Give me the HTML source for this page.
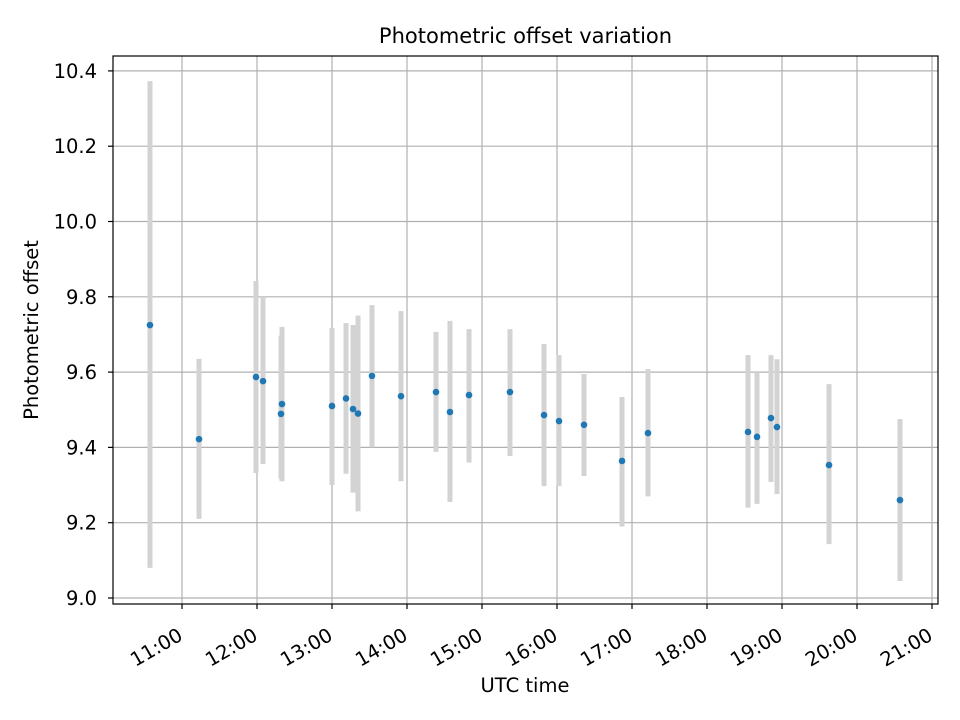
<!DOCTYPE html>
<html><head><meta charset="utf-8"><style>body{margin:0;background:#fff}svg{display:block;font-family:"DejaVu Sans","Liberation Sans",sans-serif}</style></head>
<body>
<svg id="c" width="960" height="720"></svg>
<script>
const times=[10.573,11.227,11.987,12.08,12.333,12.32,13.0,13.187,13.28,13.347,13.533,13.92,14.387,14.573,14.827,15.373,15.827,16.027,16.36,16.867,17.213,18.547,18.667,18.853,18.933,19.627,20.573];
const values=[9.725,9.422,9.587,9.576,9.515,9.489,9.51,9.53,9.502,9.49,9.59,9.536,9.547,9.494,9.539,9.547,9.486,9.47,9.46,9.364,9.438,9.441,9.428,9.478,9.454,9.353,9.26];
const upper=[10.373,9.635,9.842,9.80,9.72,9.697,9.717,9.73,9.725,9.75,9.778,9.762,9.707,9.736,9.714,9.714,9.675,9.645,9.595,9.534,9.608,9.645,9.60,9.645,9.634,9.568,9.475];
const lower=[9.08,9.21,9.332,9.356,9.31,9.317,9.30,9.33,9.28,9.23,9.40,9.31,9.388,9.255,9.36,9.377,9.297,9.297,9.324,9.19,9.27,9.24,9.25,9.308,9.276,9.143,9.045];
const yTicks=[9.0,9.2,9.4,9.6,9.8,10.0,10.2,10.4];
const xTicks=[11,12,13,14,15,16,17,18,19,20,21];
const L=113,R=938,T=56,B=604;
const X=h=>182+(h-11)*75;
const Y=v=>598-(v-9)*376.5;
const s=document.getElementById('c');const NS='http://www.w3.org/2000/svg';
function mk(t,a,p){const e=document.createElementNS(NS,t);for(const k in a)e.setAttribute(k,a[k]);(p||s).appendChild(e);return e;}
const grid=mk('g',{});


yTicks.forEach(v=>{const y=Y(v);
 mk('line',{x1:L,x2:R,y1:y,y2:y,stroke:'#b0b0b0','stroke-width':1.2},grid);
 mk('line',{x1:L-5,x2:L,y1:y,y2:y,stroke:'#000','stroke-width':1.2});
 const t=mk('text',{x:L-16,y:y+7,'text-anchor':'end','font-size':19.5});t.textContent=v.toFixed(1);
 
 });
xTicks.forEach(h=>{const x=X(h);
 mk('line',{x1:x,x2:x,y1:T,y2:B,stroke:'#b0b0b0','stroke-width':1.2},grid);
 mk('line',{x1:x,x2:x,y1:B,y2:B+5,stroke:'#000','stroke-width':1.2});
 const t=mk('text',{x:x+2,y:B+35,'text-anchor':'end','font-size':19.5,transform:`rotate(-30 ${x+2} ${B+35})`});t.textContent=h+':00';
 
 });
times.forEach((h,i)=>{const b=mk('line',{x1:X(h),x2:X(h),y1:Y(upper[i]),y2:Y(lower[i]),stroke:'#d3d3d3','stroke-width':5});
 
 });
times.forEach((h,i)=>{const c=mk('circle',{cx:X(h),cy:Y(values[i]),r:3.3,fill:'#1f77b4'});
 
 });
const fr=mk('rect',{x:L,y:T,width:R-L,height:B-T,fill:'none',stroke:'#000','stroke-width':1.2});


let t=mk('text',{x:(L+R)/2,y:43,'text-anchor':'middle','font-size':21});t.textContent='Photometric offset variation';


t=mk('text',{x:525,y:692,'text-anchor':'middle','font-size':19.5});t.textContent='UTC time';


t=mk('text',{x:38,y:330,'text-anchor':'middle','font-size':19.5,transform:'rotate(-90 38 330)'});t.textContent='Photometric offset';


</script>
</body></html>
